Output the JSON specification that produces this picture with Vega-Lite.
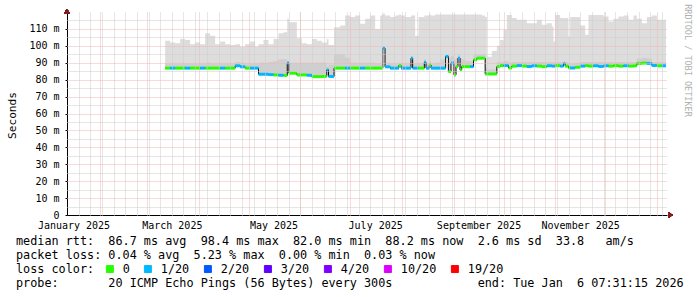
{
  "$schema": "https://vega.github.io/schema/vega-lite/v6.json",
  "width": 600,
  "height": 203,
  "autosize": {"type": "none"},
  "padding": {"left": 67, "top": 12, "right": 30, "bottom": 82},
  "background": "#ffffff",
  "config": {"view": {"stroke": null}, "font": "DejaVu Sans Mono"},
  "title": {
    "text": [
      "median rtt:\u00a0\u00a086.7 ms avg\u00a0\u00a098.4 ms max\u00a0\u00a082.0 ms min\u00a0\u00a088.2 ms now\u00a0\u00a02.6 ms sd\u00a0\u00a033.8\u00a0\u00a0\u00a0am/s",
      "packet loss: 0.04 % avg\u00a0\u00a05.23 % max\u00a0\u00a00.00 % min\u00a0\u00a00.03 % now"
    ],
    "subtitle": "probe:\u00a0\u00a0\u00a0\u00a0\u00a0\u00a0\u00a020 ICMP Echo Pings (56 Bytes) every 300s\u00a0\u00a0\u00a0\u00a0\u00a0\u00a0\u00a0\u00a0\u00a0\u00a0\u00a0\u00a0end: Tue Jan\u00a0\u00a06 07:31:15 2026",
    "orient": "bottom",
    "anchor": "start",
    "frame": "group",
    "dx": -51,
    "offset": -40,
    "font": "DejaVu Sans Mono",
    "fontSize": 11.8,
    "fontWeight": "normal",
    "color": "#000000",
    "lineHeight": 14,
    "baseline": "top",
    "subtitleFont": "DejaVu Sans Mono",
    "subtitleFontSize": 11.8,
    "subtitleFontWeight": "normal",
    "subtitleColor": "#000000",
    "subtitleLineHeight": 14,
    "subtitlePadding": 16
  },
  "data": {"values": [
    {"d":"2025-03-12","m":86.8,"h":103,"s":89.5,"l":"0"},
    {"d":"2025-03-15","m":86.8,"h":102,"s":89.5,"l":"1/20"},
    {"d":"2025-03-18","m":86.8,"h":101.5,"s":89.5,"l":"0"},
    {"d":"2025-03-21","m":86.8,"h":104,"s":89.5,"l":"0"},
    {"d":"2025-03-24","m":86.8,"h":103.5,"s":89.5,"l":"1/20"},
    {"d":"2025-03-27","m":86.8,"h":101,"s":89.5,"l":"0"},
    {"d":"2025-03-30","m":86.8,"h":102,"s":89.5,"l":"0"},
    {"d":"2025-04-02","m":86.8,"h":101,"s":89.5,"l":"1/20"},
    {"d":"2025-04-05","m":86.8,"h":107.5,"s":90,"l":"0"},
    {"d":"2025-04-08","m":86.8,"h":106,"s":89.5,"l":"0"},
    {"d":"2025-04-11","m":86.8,"h":101,"s":89.5,"l":"0"},
    {"d":"2025-04-14","m":86.8,"h":102.5,"s":89.5,"l":"1/20"},
    {"d":"2025-04-17","m":86.8,"h":101,"s":89.5,"l":"0"},
    {"d":"2025-04-20","m":86.8,"h":100.5,"s":89.5,"l":"0"},
    {"d":"2025-04-23","m":88.2,"h":101,"s":90.5,"l":"1/20"},
    {"d":"2025-04-26","m":87.6,"h":99.5,"s":90,"l":"1/20"},
    {"d":"2025-04-29","m":86.8,"h":101,"s":89.5,"l":"0"},
    {"d":"2025-05-02","m":86.8,"h":102.5,"s":89.5,"l":"1/20"},
    {"d":"2025-05-05","m":86.8,"h":99.5,"s":89.5,"l":"1/20"},
    {"d":"2025-05-07","m":83.2,"h":101,"s":90,"l":"1/20"},
    {"d":"2025-05-10","m":83.2,"h":103.5,"s":90,"l":"1/20"},
    {"d":"2025-05-13","m":83.0,"h":101,"s":90.5,"l":"1/20"},
    {"d":"2025-05-16","m":82.8,"h":104,"s":91,"l":"0"},
    {"d":"2025-05-19","m":82.6,"h":107.5,"s":92,"l":"1/20"},
    {"d":"2025-05-22","m":82.5,"h":108,"s":92,"l":"0"},
    {"d":"2025-05-24T06:00:00Z","m":89.8,"h":116,"s":91,"l":"1/20"},
    {"d":"2025-05-25T06:00:00Z","m":83.8,"h":114,"s":90,"l":"0"},
    {"d":"2025-05-30","m":82.8,"h":104.5,"s":90,"l":"0"},
    {"d":"2025-06-02","m":82.8,"h":101.5,"s":90,"l":"0"},
    {"d":"2025-06-05","m":82.6,"h":101,"s":90,"l":"1/20"},
    {"d":"2025-06-08","m":81.8,"h":104,"s":90,"l":"0"},
    {"d":"2025-06-11","m":81.8,"h":103,"s":90,"l":"0"},
    {"d":"2025-06-14","m":81.9,"h":102,"s":90,"l":"0"},
    {"d":"2025-06-17","m":85.8,"h":104,"s":88,"l":"1/20"},
    {"d":"2025-06-18","m":81.9,"h":100.5,"s":89,"l":"1/20"},
    {"d":"2025-06-21T08:00:00Z","m":86.8,"h":111,"s":95,"l":"0"},
    {"d":"2025-06-25","m":86.8,"h":112,"s":95,"l":"0"},
    {"d":"2025-06-28","m":86.8,"h":118,"s":93,"l":"1/20"},
    {"d":"2025-07-01","m":86.8,"h":117,"s":90,"l":"0"},
    {"d":"2025-07-04","m":86.8,"h":118,"s":90,"l":"0"},
    {"d":"2025-07-07","m":86.8,"h":113,"s":90,"l":"1/20"},
    {"d":"2025-07-10","m":86.8,"h":116,"s":90,"l":"0"},
    {"d":"2025-07-13","m":86.8,"h":118,"s":90,"l":"0"},
    {"d":"2025-07-16","m":86.8,"h":110,"s":89.5,"l":"0"},
    {"d":"2025-07-19","m":86.8,"h":118,"s":90,"l":"0"},
    {"d":"2025-07-20T14:00:00Z","m":98.6,"h":119,"s":99.5,"l":"1/20"},
    {"d":"2025-07-21T22:00:00Z","m":87.6,"h":118,"s":90,"l":"1/20"},
    {"d":"2025-07-25","m":86.8,"h":117,"s":89.5,"l":"1/20"},
    {"d":"2025-07-28","m":86.8,"h":118,"s":89.5,"l":"1/20"},
    {"d":"2025-07-30T05:00:00Z","m":88.3,"h":118.5,"s":90,"l":"0"},
    {"d":"2025-07-31T14:00:00Z","m":86.8,"h":118,"s":89.5,"l":"1/20"},
    {"d":"2025-08-03","m":86.8,"h":117,"s":89.5,"l":"1/20"},
    {"d":"2025-08-06T12:00:00Z","m":92.7,"h":118,"s":94,"l":"1/20"},
    {"d":"2025-08-07T12:00:00Z","m":86.8,"h":118,"s":89.5,"l":"1/20"},
    {"d":"2025-08-09","m":86.8,"h":106,"s":89.5,"l":"1/20"},
    {"d":"2025-08-11","m":86.8,"h":117,"s":89.5,"l":"0"},
    {"d":"2025-08-14T12:00:00Z","m":90.3,"h":118,"s":92,"l":"1/20"},
    {"d":"2025-08-15T12:00:00Z","m":86.8,"h":118,"s":89.5,"l":"1/20"},
    {"d":"2025-08-17T12:00:00Z","m":88.7,"h":118.5,"s":91,"l":"0"},
    {"d":"2025-08-18T12:00:00Z","m":86.8,"h":118,"s":89.5,"l":"1/20"},
    {"d":"2025-08-21","m":86.8,"h":118.5,"s":90,"l":"1/20"},
    {"d":"2025-08-24","m":86.8,"h":118.5,"s":92,"l":"1/20"},
    {"d":"2025-08-27T07:00:00Z","m":93.7,"h":118.5,"s":95,"l":"1/20"},
    {"d":"2025-08-28T22:00:00Z","m":84.8,"h":118.5,"s":93,"l":"0"},
    {"d":"2025-08-30T12:00:00Z","m":89.8,"h":118.5,"s":94,"l":"1/20"},
    {"d":"2025-09-01T07:00:00Z","m":82.8,"h":118.5,"s":92,"l":"0"},
    {"d":"2025-09-02T12:00:00Z","m":87.7,"h":118.5,"s":93,"l":"0"},
    {"d":"2025-09-03T17:00:00Z","m":92.7,"h":118.5,"s":95,"l":"1/20"},
    {"d":"2025-09-04T22:00:00Z","m":85.8,"h":118.5,"s":93,"l":"0"},
    {"d":"2025-09-05T22:00:00Z","m":87.7,"h":118.5,"s":92,"l":"0"},
    {"d":"2025-09-08","m":87.7,"h":118.5,"s":91,"l":"0"},
    {"d":"2025-09-11","m":87.7,"h":118.5,"s":91,"l":"1/20"},
    {"d":"2025-09-13","m":91.7,"h":118.5,"s":95,"l":"0"},
    {"d":"2025-09-15","m":92.7,"h":118.5,"s":95,"l":"0"},
    {"d":"2025-09-18","m":92.7,"h":118,"s":95,"l":"0"},
    {"d":"2025-09-20","m":83.4,"h":117,"s":87,"l":"0"},
    {"d":"2025-09-21","m":83.4,"h":93.5,"s":86,"l":"0"},
    {"d":"2025-09-24","m":83.4,"h":97,"s":86,"l":"0"},
    {"d":"2025-09-27","m":87.7,"h":100,"s":90.5,"l":"0"},
    {"d":"2025-09-29","m":88.3,"h":103.5,"s":90.5,"l":"0"},
    {"d":"2025-10-01","m":88.3,"h":109.5,"s":91,"l":"1/20"},
    {"d":"2025-10-03","m":88.3,"h":118.3,"s":91,"l":"1/20"},
    {"d":"2025-10-04","m":86.9,"h":118.3,"s":90,"l":"0"},
    {"d":"2025-10-06","m":88.0,"h":116.4,"s":90.5,"l":"0"},
    {"d":"2025-10-09","m":88.3,"h":115.4,"s":90.5,"l":"1/20"},
    {"d":"2025-10-12","m":88.0,"h":115.4,"s":90.5,"l":"0"},
    {"d":"2025-10-15","m":87.8,"h":113.4,"s":90.5,"l":"1/20"},
    {"d":"2025-10-18","m":88.2,"h":113.4,"s":90.5,"l":"1/20"},
    {"d":"2025-10-21","m":88.0,"h":115.4,"s":90.5,"l":"0"},
    {"d":"2025-10-24","m":87.7,"h":112.4,"s":90.5,"l":"0"},
    {"d":"2025-10-27","m":88.2,"h":113.4,"s":90.5,"l":"1/20"},
    {"d":"2025-10-30","m":88.0,"h":111.4,"s":90.5,"l":"1/20"},
    {"d":"2025-10-31","m":88.0,"h":102.5,"s":90.5,"l":"1/20"},
    {"d":"2025-11-01","m":88.3,"h":118.3,"s":90.5,"l":"0"},
    {"d":"2025-11-04","m":88.0,"h":116.4,"s":90.5,"l":"1/20"},
    {"d":"2025-11-06","m":89.5,"h":116.4,"s":91,"l":"1/20"},
    {"d":"2025-11-07","m":88.0,"h":116.4,"s":90.5,"l":"0"},
    {"d":"2025-11-09","m":86.9,"h":105.5,"s":89.5,"l":"0"},
    {"d":"2025-11-10","m":86.9,"h":117,"s":89.5,"l":"1/20"},
    {"d":"2025-11-13","m":87.3,"h":117,"s":90,"l":"0"},
    {"d":"2025-11-16","m":88.0,"h":112,"s":90.5,"l":"1/20"},
    {"d":"2025-11-19","m":88.3,"h":106.5,"s":90.5,"l":"0"},
    {"d":"2025-11-21","m":88.0,"h":118.3,"s":90.5,"l":"0"},
    {"d":"2025-11-24","m":88.2,"h":118.3,"s":90.5,"l":"1/20"},
    {"d":"2025-11-27","m":87.8,"h":118.3,"s":90.5,"l":"1/20"},
    {"d":"2025-11-30","m":88.2,"h":117.3,"s":90.5,"l":"1/20"},
    {"d":"2025-12-03","m":88.0,"h":114.4,"s":90.5,"l":"0"},
    {"d":"2025-12-06","m":88.3,"h":116,"s":90.5,"l":"0"},
    {"d":"2025-12-09","m":88.0,"h":117.3,"s":90.5,"l":"0"},
    {"d":"2025-12-12","m":88.2,"h":118,"s":90.5,"l":"1/20"},
    {"d":"2025-12-15","m":88.0,"h":115.4,"s":90.5,"l":"0"},
    {"d":"2025-12-18","m":88.2,"h":118,"s":90.5,"l":"0"},
    {"d":"2025-12-20","m":89.6,"h":116,"s":92.5,"l":"0"},
    {"d":"2025-12-23","m":89.8,"h":113.4,"s":93,"l":"0"},
    {"d":"2025-12-26","m":89.6,"h":117,"s":92.5,"l":"1/20"},
    {"d":"2025-12-29","m":88.4,"h":118,"s":90.5,"l":"1/20"},
    {"d":"2026-01-01","m":88.2,"h":115.4,"s":90.5,"l":"0"},
    {"d":"2026-01-04","m":88.2,"h":115.4,"s":90.5,"l":"1/20"},
    {"d":"2026-01-06T12:00:00Z","m":88.2,"h":115.4,"s":90.5,"l":"1/20"}
  ]},
  "transform": [
    {"window": [{"op": "lead", "field": "d", "as": "e"}], "sort": [{"field": "d"}]}
  ],
  "layer": [
    {
      "mark": {"type": "area", "interpolate": "step-after", "color": "#dddddd", "clip": true},
      "encoding": {
        "x": {"field": "d", "type": "temporal",
          "scale": {"type": "utc", "domain": [{"year":2025,"month":1,"date":12,"hours":2,"minutes":24,"utc":true},{"year":2026,"month":1,"date":7,"hours":2,"minutes":24,"utc":true}]},
          "axis": {"orient": "bottom", "grid": true, "gridColor": "#cccccc", "gridDash": [1, 1], "gridWidth": 1,
            "tickCount": {"interval": "week", "step": 1}, "labels": false, "ticks": false, "domain": false, "title": null, "zindex": 1}},
        "y": {"field": "m", "type": "quantitative", "scale": {"domain": [0, 120]},
          "axis": {"orient": "left", "values": [5,15,25,35,45,55,65,75,85,95,105,115], "grid": true, "gridColor": "#cccccc", "gridDash": [1, 1],
            "labels": false, "ticks": false, "domain": false, "title": null, "zindex": 1}},
        "y2": {"field": "h"}
      }
    },
    {
      "mark": {"type": "area", "interpolate": "step-after", "color": "#cfcfcf", "clip": true},
      "encoding": {
        "x": {"field": "d", "type": "temporal",
          "axis": {"orient": "bottom", "grid": true, "gridColor": "#f0b4b4", "gridDash": [1, 1], "gridWidth": 1,
            "tickCount": {"interval": "month", "step": 1}, "labels": false, "ticks": false, "domain": false, "title": null, "zindex": 1}},
        "y": {"field": "m", "type": "quantitative", "scale": {"domain": [0, 120]},
          "axis": {"orient": "left", "values": [10,20,30,40,50,60,70,80,90,100,110], "grid": true, "gridColor": "#f0b4b4", "gridDash": [1, 1],
            "labels": false, "ticks": false, "domain": false, "title": null, "zindex": 1}},
        "y2": {"field": "s"}
      }
    },
    {
      "mark": {"type": "line", "interpolate": "step-after", "color": "#000000", "strokeWidth": 1, "clip": true},
      "encoding": {
        "x": {"field": "d", "type": "temporal",
          "axis": {"orient": "bottom", "grid": false, "ticks": false, "domain": true, "domainColor": "#000000", "domainWidth": 1,
            "values": [{"year":2025,"month":1,"date":16,"utc":true},{"year":2025,"month":3,"date":16,"utc":true},{"year":2025,"month":5,"date":16,"utc":true},{"year":2025,"month":7,"date":16,"utc":true},{"year":2025,"month":9,"date":16,"utc":true},{"year":2025,"month":11,"date":16,"utc":true}],
            "labelExpr": "utcFormat(datum.value, '%B %Y')", "labelFont": "DejaVu Sans Mono", "labelFontSize": 10, "labelColor": "#000000",
            "labelPadding": 5, "labelAlign": "center", "labelFlush": false, "labelOverlap": false, "title": null}},
        "y": {"field": "m", "type": "quantitative", "scale": {"domain": [0, 120]},
          "axis": {"orient": "left", "values": [0,10,20,30,40,50,60,70,80,90,100,110],
            "labelExpr": "datum.value == 0 ? '0\u00a0\u00a0' : datum.value + ' m'",
            "labelFont": "DejaVu Sans Mono", "labelFontSize": 10, "labelColor": "#000000", "labelPadding": 6, "labelFlush": false, "labelOverlap": false,
            "ticks": true, "tickSize": 2, "tickColor": "#000000", "domain": true, "domainColor": "#000000", "grid": false,
            "title": "Seconds", "titleFont": "DejaVu Sans Mono", "titleFontSize": 11.1, "titleFontWeight": "normal", "titleColor": "#000000",
            "titleAngle": 270, "titleX": -52, "titleY": 103, "titleAlign": "center", "titleBaseline": "alphabetic"}}
      }
    },
    {
      "transform": [{"filter": {"field": "e", "valid": true}}],
      "mark": {"type": "rule", "strokeWidth": 3, "clip": true},
      "encoding": {
        "x": {"field": "d", "type": "temporal", "axis": null},
        "x2": {"field": "e"},
        "y": {"field": "m", "type": "quantitative", "scale": {"domain": [0, 120]},
          "axis": {"orient": "right", "labels": false, "ticks": false, "domain": false, "grid": false,
            "title": "RRDTOOL / TOBI OETIKER", "titleFont": "DejaVu Sans Mono", "titleFontSize": 8.5, "titleFontWeight": "normal",
            "titleColor": "#b0b0b0", "titleAngle": 90, "titleX": 17, "titleY": 48, "titleAlign": "center", "titleBaseline": "alphabetic"}},
        "color": {"field": "l", "type": "nominal",
          "scale": {"domain": ["0","1/20","2/20","3/20","4/20","10/20","19/20"],
                    "range": ["#26ff00","#00b8ff","#0059ff","#5e00ff","#7e00ff","#dd00ff","#ff0000"]},
          "legend": {"orient": "none", "legendX": -51, "legendY": 251, "direction": "horizontal",
            "title": "loss color:", "titleOrient": "left", "titleFont": "DejaVu Sans Mono", "titleFontSize": 11.8, "titleFontWeight": "normal",
            "titleColor": "#000000", "titlePadding": 9,
            "labelFont": "DejaVu Sans Mono", "labelFontSize": 11.8, "labelColor": "#000000", "labelOffset": 7, "columnPadding": 12,
            "symbolType": "square", "symbolSize": 49, "symbolStrokeWidth": 1, "symbolStrokeColor": "#000000",
            "encode": {"symbols": {"update": {"fill": {"scale": "color", "field": "value"}, "stroke": {"value": "#000000"}, "strokeWidth": {"value": 1}, "opacity": {"value": 1}, "fillOpacity": {"value": 1}}}}}}
      }
    },
    {
      "mark": {"type": "point", "shape": "triangle-right", "filled": true, "color": "#801f1f", "size": 30, "opacity": 1},
      "encoding": {
        "x": {"datum": {"year":2026,"month":1,"date":9,"hours":5,"utc":true}, "type": "temporal", "axis": null},
        "y": {"datum": 0, "type": "quantitative", "axis": null}
      }
    },
    {
      "mark": {"type": "point", "shape": "triangle-up", "filled": true, "color": "#801f1f", "size": 30, "opacity": 1},
      "encoding": {
        "x": {"datum": {"year":2025,"month":1,"date":12,"hours":2,"minutes":24,"utc":true}, "type": "temporal", "axis": null},
        "y": {"datum": 120.4, "type": "quantitative", "axis": null}
      }
    }
  ],
  "resolve": {"axis": {"x": "independent", "y": "independent"}}
}
